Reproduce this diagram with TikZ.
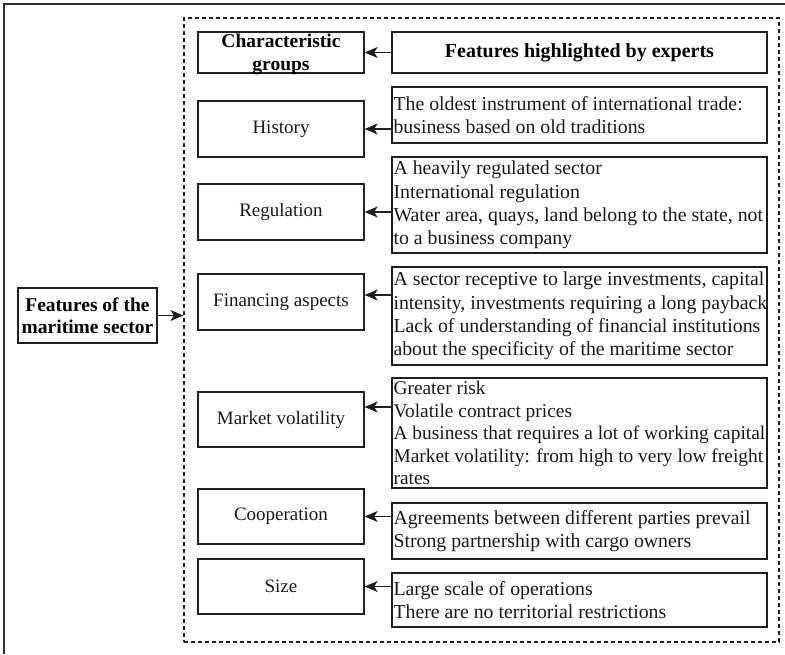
\documentclass[tikz,border=0pt]{standalone}
\usepackage{fontspec}
\setmainfont{Liberation Serif}
\usetikzlibrary{arrows.meta}
\begin{document}
\begin{tikzpicture}[x=1pt,y=-1pt,
  lbox/.style={draw=black!88, line width=1.3pt, inner sep=0pt, minimum width=166pt},
  rbox/.style={draw=black!88, line width=1.3pt, inner sep=0pt, minimum width=375pt},
  ltext/.style={inner sep=0pt, font=\fontsize{19}{22}\selectfont, align=center, text=black!90},
  lbold/.style={inner sep=0pt, font=\fontsize{19.5}{22.5}\selectfont\bfseries, align=center, text=black},
  rtext/.style={inner sep=0pt, font=\fontsize{19.8}{23.3}\selectfont, align=left, text=black!90, anchor=west},
  arr/.style={draw=black!88, line width=1.3pt, -{Stealth[length=13pt,width=11pt,inset=3.5pt]}}]
\useasboundingbox (0,0) rectangle (785,654);
% outer frame (cut off at right and bottom)
\draw[line width=1.5pt, black!80] (4,654) -- (4,4) -- (785,4);
% dashed container
\node[draw=black!88, line width=1.2pt, dash pattern=on 4pt off 3pt, inner sep=0pt,
      minimum width=595pt, minimum height=624pt] (frame) at (481.5,330) {};
% main box
\node[draw=black!88, line width=1.3pt, inner sep=0pt, minimum width=139pt, minimum height=55pt] (fm) at (87.5,315.5) {};
\node[lbold] (fmt) at (fm.center) {Features of the\\maritime sector};
\draw[arr] (fm.east) -- (fm.east -| frame.west);
% left column
\node[lbox, minimum height=41pt] (lg) at (281,52.5) {};
\node[lbold] (lgt) at (281,54.5) {Characteristic\\groups};
\node[lbox, minimum height=56pt] (l1) at (281,129) {};
\node[ltext] (l1t) at (l1.center) {History};
\node[lbox, minimum height=56pt] (l2) at (281,212) {};
\node[ltext] (l2t) at (l2.center) {Regulation};
\node[lbox, minimum height=56pt] (l3) at (281,302) {};
\node[ltext] (l3t) at (l3.center) {Financing aspects};
\node[lbox, minimum height=55pt] (l4) at (281,419.5) {};
\node[ltext] (l4t) at (l4.center) {Market volatility};
\node[lbox, minimum height=55pt] (l5) at (281,516.5) {};
\node[ltext] (l5t) at (l5.center) {Cooperation};
\node[lbox, minimum height=55pt] (l6) at (281,586.5) {};
\node[ltext] (l6t) at (l6.center) {Size};
% right column
\node[rbox, minimum height=41pt] (rg) at (579.5,52.5) {};
\node[inner sep=0pt, font=\fontsize{20}{23}\selectfont\bfseries, text=black] (rgt) at (rg.center) {Features highlighted by experts};
\node[rbox, minimum height=56pt] (r1) at (579.5,115) {};
\node[rtext] (r1t) at ([xshift=2pt]r1.west) {The oldest instrument of international trade:\\business based on old traditions};
\node[rbox, minimum height=96pt] (r2) at (579.5,205) {};
\node[rtext] (r2t) at ([xshift=2pt]r2.west) {A heavily regulated sector\\International regulation\\Water area, quays, land belong to the state, not\\to a business company};
\node[rbox, minimum height=98pt] (r3) at (579.5,316) {};
\node[rtext] (r3t) at ([xshift=2pt]r3.west) {A sector receptive to large investments, capital\\intensity, investments requiring a long payback\\Lack of understanding of financial institutions\\about the specificity of the maritime sector};
\node[rbox, minimum height=110pt] (r4) at (579.5,433) {};
\node[rtext, font=\fontsize{19.4}{22.5}\selectfont] (r4t) at ([xshift=2pt]r4.west) {Greater risk\\Volatile contract prices\\A business that requires a lot of working capital\\Market volatility: from high to very low freight\\rates};
\node[rbox, minimum height=56pt] (r5) at (579.5,531) {};
\node[rtext] (r5t) at ([xshift=2pt]r5.west) {Agreements between different parties prevail\\Strong partnership with cargo owners};
\node[rbox, minimum height=54pt] (r6) at (579.5,600) {};
\node[rtext] (r6t) at ([xshift=2pt]r6.west) {Large scale of operations\\There are no territorial restrictions};
% connectors
\draw[arr] (rg.west) -- (lg.east);
\draw[arr] (r1.west |- l1.east) -- (l1.east);
\draw[arr] (r2.west |- l2.east) -- (l2.east);
\draw[arr] ([yshift=7pt]l3.east -| r3.west) -- ([yshift=7pt]l3.east);
\draw[arr] ([yshift=12.5pt]l4.east -| r4.west) -- ([yshift=12.5pt]l4.east);
\draw[arr] (r5.west |- l5.east) -- (l5.east);
\draw[arr] (r6.west |- l6.east) -- (l6.east);
\end{tikzpicture}
\end{document}
